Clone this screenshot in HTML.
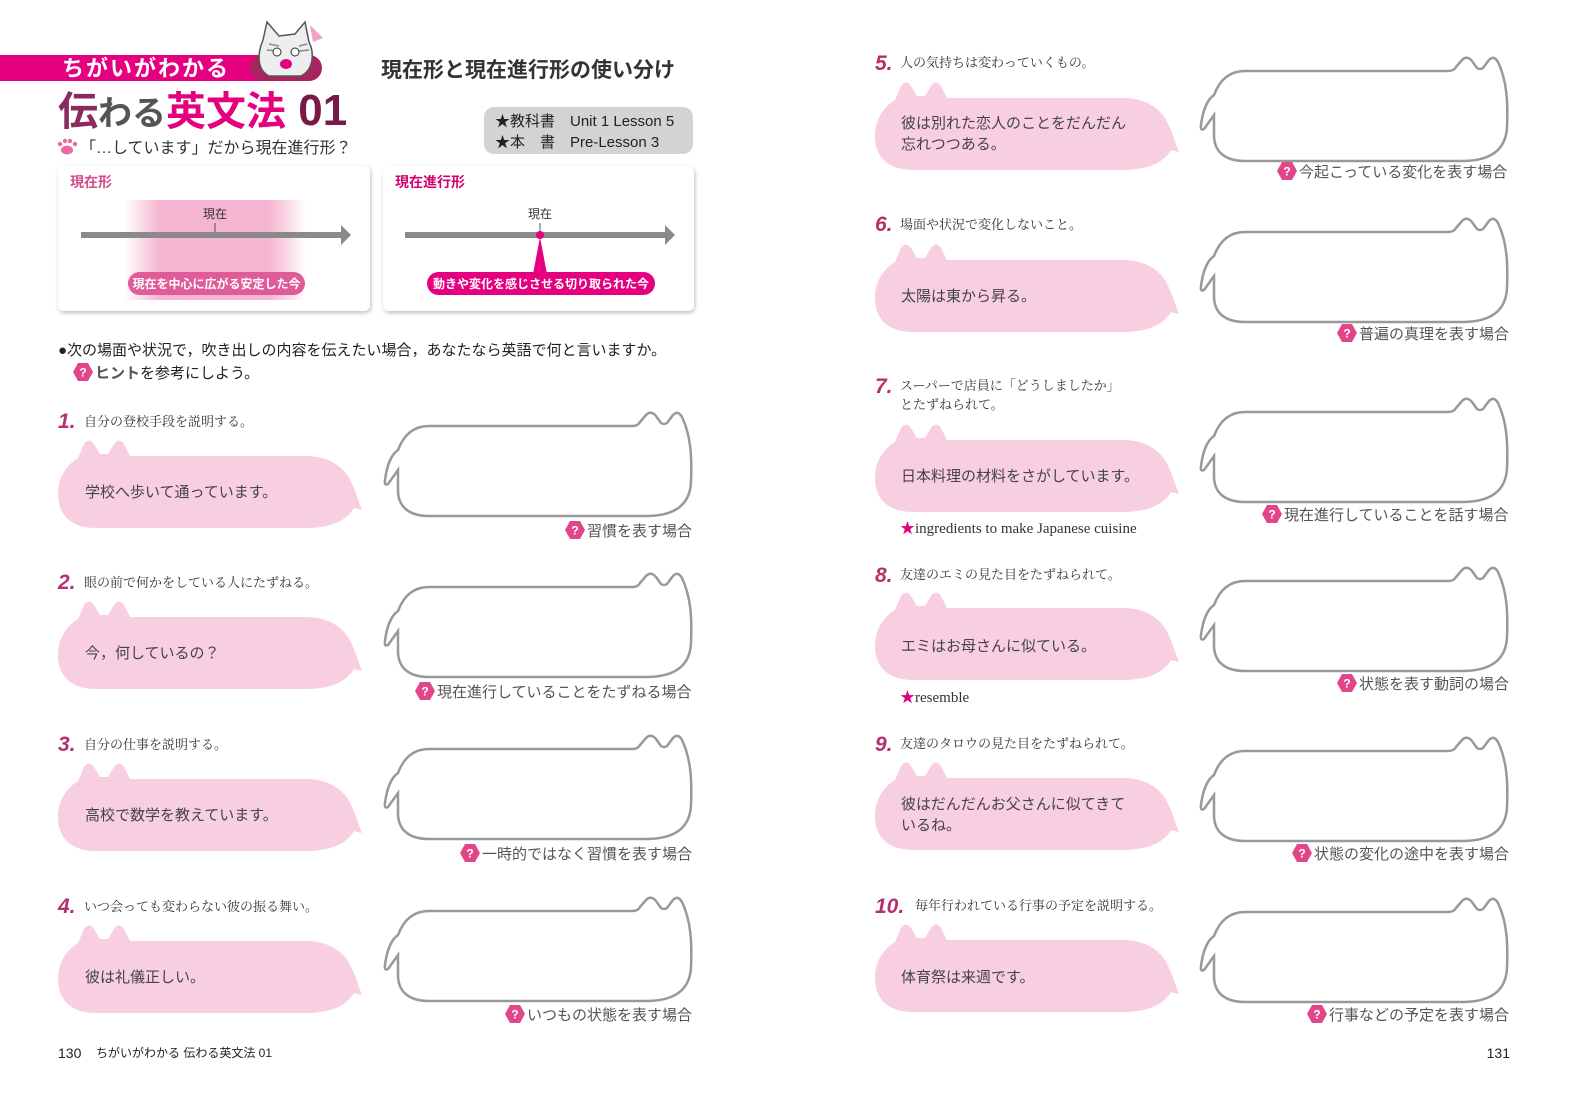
<!DOCTYPE html>
<html><head><meta charset="utf-8"><style>
html,body{margin:0;padding:0;background:#fff;}
svg{display:block;}
text{font-family:"Liberation Sans","Noto Sans CJK JP",sans-serif;}
text.ser,text.note{font-family:"Liberation Serif","Noto Serif CJK SC",serif;}
.ser{font-size:13px;fill:#333;}
.note{font-size:15px;fill:#333;}
.num{font-family:"Liberation Sans",sans-serif;font-weight:bold;font-style:italic;font-size:21px;fill:#b5306e;}
.pt{font-size:15px;fill:#444;}
.ht{font-size:15px;fill:#555;}
.qm{font-size:12px;font-weight:bold;fill:#fff;}
</style></head><body>
<svg width="1580" height="1102" viewBox="0 0 1580 1102" xmlns="http://www.w3.org/2000/svg">
<defs>
<path id="pk" d="M38 90 C12 90 0 76 0 56 C0 38 10 26 20 20 L26 6 Q31 -1 36 6 L42 16 L50 16 L56 6 Q61 -1 66 6 L72 18 L248 18 C272 18 288 30 294 46 C298 54 300 62 304 72 L296 70 C288 84 270 90 248 90 Z" fill="#f8cfe0"/>
<path id="ol" d="M45 14 L248 14 Q254 14 256 10 L262 3 Q267 -2 272 4 L277 11 Q280 13 283 11 L289 3 Q294 -2 298 5 C307 24 308 45 307 70 C306 92 292 104 262 104 L45 104 C24 104 14 94 14 78 L14 58 L4 72 Q0 74 1 68 C3 52 8 42 14 38 C20 22 30 14 45 14 Z" fill="#fff" stroke="#999" stroke-width="2.5"/>
<polygon id="hx" points="-5,-9 5,-9 10,0 5,9 -5,9 -10,0" fill="#e2468a"/>
<linearGradient id="gp" x1="0" x2="1" y1="0" y2="0">
<stop offset="0" stop-color="#f5b5d0" stop-opacity="0"/><stop offset="0.2" stop-color="#f5b5d0"/><stop offset="0.8" stop-color="#f5b5d0"/><stop offset="1" stop-color="#f5b5d0" stop-opacity="0"/></linearGradient>
<filter id="sh" x="-5%" y="-5%" width="110%" height="115%"><feDropShadow dx="1" dy="2" stdDeviation="2" flood-color="#000" flood-opacity="0.25"/></filter>
</defs>

<rect x="0" y="55" width="300" height="26" fill="#e4007f"/>
<rect x="250" y="55" width="72" height="26" rx="13" fill="#a8235f"/>
<text x="62" y="76" font-size="22" font-weight="bold" fill="#fff" letter-spacing="2">ちがいがわかる</text>
<g transform="translate(255,20)">
<path d="M8 20 L12 2 L24 16 L40 14 L50 2 L54 22 C60 34 58 50 46 56 L14 56 C2 50 2 34 8 20 Z" fill="#eee" stroke="#555" stroke-width="1.5"/>
<path d="M14 24 L24 26 M12 30 L22 31 M44 26 L52 24 M44 31 L54 30" stroke="#888" stroke-width="1.5"/>
<circle cx="22" cy="32" r="4" fill="#fff" stroke="#333"/><circle cx="40" cy="32" r="4" fill="#fff" stroke="#333"/>
<ellipse cx="31" cy="44" rx="6" ry="5" fill="#e4007f"/>
<path d="M55 5 L68 18 L58 22 Z" fill="#f3a0c8"/>
</g>
<text x="58" y="125" font-size="40" font-weight="bold" fill="#8b2a5e">伝<tspan font-size="34" fill="#555">わる</tspan><tspan fill="#e4007f">英文法</tspan><tspan fill="#7a1848" font-size="44"> 01</tspan></text>
<g fill="#e86aa2"><ellipse cx="67" cy="150" rx="6" ry="4.5"/><circle cx="60" cy="144" r="2.2"/><circle cx="65" cy="141" r="2.2"/><circle cx="70" cy="141" r="2.2"/><circle cx="75" cy="144" r="2.2"/></g>
<text x="80" y="153" font-size="16" fill="#333">「…しています」だから現在進行形？</text>
<text x="381" y="77" font-size="21" font-weight="bold" fill="#333">現在形と現在進行形の使い分け</text>
<rect x="484" y="107" width="209" height="47" rx="10" fill="#d2d3d4"/>
<text x="495" y="126" font-size="15" fill="#222">★教科書　Unit 1  Lesson 5</text>
<text x="495" y="147" font-size="15" fill="#222">★本　書　Pre-Lesson 3</text>

<rect x="58" y="166" width="312" height="145" rx="6" fill="#fff" filter="url(#sh)"/>
<rect x="383" y="166" width="311" height="145" rx="6" fill="#fff" filter="url(#sh)"/>
<text x="70" y="187" font-size="14" font-weight="bold" fill="#d54889">現在形</text>
<text x="395" y="187" font-size="14" font-weight="bold" fill="#d5006f">現在進行形</text>
<rect x="124" y="200" width="182" height="100" fill="url(#gp)"/>
<text x="215" y="218" font-size="12" fill="#333" text-anchor="middle">現在</text>
<line x1="215" y1="223" x2="215" y2="232" stroke="#555"/>
<rect x="81" y="232" width="262" height="6" fill="#8a8a8a"/>
<polygon points="341,225 351,235 341,245" fill="#8a8a8a"/>
<rect x="128" y="272" width="177" height="23" rx="11.5" fill="#df5c98"/>
<text x="216.5" y="288" font-size="12" font-weight="bold" fill="#fff" text-anchor="middle">現在を中心に広がる安定した今</text>
<text x="540" y="218" font-size="12" fill="#333" text-anchor="middle">現在</text>
<line x1="540" y1="223" x2="540" y2="232" stroke="#555"/>
<rect x="405" y="232" width="262" height="6" fill="#8a8a8a"/>
<polygon points="665,225 675,235 665,245" fill="#8a8a8a"/>
<polygon points="540,237 533,274 547,274" fill="#e4007f"/>
<circle cx="540" cy="235" r="4" fill="#e4007f"/>
<rect x="427" y="272" width="228" height="23" rx="11.5" fill="#e4007f"/>
<text x="541" y="288" font-size="12" font-weight="bold" fill="#fff" text-anchor="middle">動きや変化を感じさせる切り取られた今</text>

<text x="58" y="355" font-size="15" fill="#222">●次の場面や状況で，吹き出しの内容を伝えたい場合，あなたなら英語で何と言いますか。</text>
<use href="#hx" x="83" y="372"/><text x="83" y="376.5" class="qm" text-anchor="middle">?</text>
<text x="95" y="378" font-size="15" fill="#222"><tspan font-weight="bold" fill="#555">ヒント</tspan>を参考にしよう。</text>

<text x="58" y="428" class="num">1.</text><text x="84" y="426" class="ser">自分の登校手段を説明する。</text>
<use href="#pk" x="58" y="438"/><use href="#ol" x="384" y="412"/>
<text x="85" y="497" class="pt">学校へ歩いて通っています。</text>
<use href="#hx" x="575" y="530"/><text x="575" y="534.5" class="qm" text-anchor="middle">?</text><text x="587" y="536" class="ht">習慣を表す場合</text>

<text x="58" y="589" class="num">2.</text><text x="84" y="587" class="ser">眼の前で何かをしている人にたずねる。</text>
<use href="#pk" x="58" y="599"/><use href="#ol" x="384" y="573"/>
<text x="85" y="658" class="pt">今，何しているの？</text>
<use href="#hx" x="425" y="691"/><text x="425" y="695.5" class="qm" text-anchor="middle">?</text><text x="437" y="697" class="ht">現在進行していることをたずねる場合</text>

<text x="58" y="751" class="num">3.</text><text x="84" y="749" class="ser">自分の仕事を説明する。</text>
<use href="#pk" x="58" y="761"/><use href="#ol" x="384" y="735"/>
<text x="85" y="820" class="pt">高校で数学を教えています。</text>
<use href="#hx" x="470" y="853"/><text x="470" y="857.5" class="qm" text-anchor="middle">?</text><text x="482" y="859" class="ht">一時的ではなく習慣を表す場合</text>

<text x="58" y="913" class="num">4.</text><text x="84" y="911" class="ser">いつ会っても変わらない彼の振る舞い。</text>
<use href="#pk" x="58" y="923"/><use href="#ol" x="384" y="897"/>
<text x="85" y="982" class="pt">彼は礼儀正しい。</text>
<use href="#hx" x="515" y="1014"/><text x="515" y="1018.5" class="qm" text-anchor="middle">?</text><text x="527" y="1020" class="ht">いつもの状態を表す場合</text>

<text x="875" y="70" class="num">5.</text><text x="900" y="67" class="ser">人の気持ちは変わっていくもの。</text>
<use href="#pk" x="875" y="80"/><use href="#ol" x="1200" y="57"/>
<text x="901" y="128" class="pt">彼は別れた恋人のことをだんだん</text>
<text x="901" y="149" class="pt">忘れつつある。</text>
<use href="#hx" x="1287" y="171"/><text x="1287" y="175.5" class="qm" text-anchor="middle">?</text><text x="1299" y="177" class="ht">今起こっている変化を表す場合</text>

<text x="875" y="231" class="num">6.</text><text x="900" y="229" class="ser">場面や状況で変化しないこと。</text>
<use href="#pk" x="875" y="242"/><use href="#ol" x="1200" y="218"/>
<text x="901" y="301" class="pt">太陽は東から昇る。</text>
<use href="#hx" x="1347" y="333"/><text x="1347" y="337.5" class="qm" text-anchor="middle">?</text><text x="1359" y="339" class="ht">普遍の真理を表す場合</text>

<text x="875" y="393" class="num">7.</text><text x="900" y="390" class="ser">スーパーで店員に「どうしましたか」</text><text x="900" y="409" class="ser">とたずねられて。</text>
<use href="#pk" x="875" y="422"/><use href="#ol" x="1200" y="398"/>
<text x="901" y="481" class="pt">日本料理の材料をさがしています。</text>
<text x="900" y="533" class="note"><tspan fill="#e4007f">★</tspan>ingredients to make Japanese cuisine</text>
<use href="#hx" x="1272" y="514"/><text x="1272" y="518.5" class="qm" text-anchor="middle">?</text><text x="1284" y="520" class="ht">現在進行していることを話す場合</text>

<text x="875" y="582" class="num">8.</text><text x="900" y="579" class="ser">友達のエミの見た目をたずねられて。</text>
<use href="#pk" x="875" y="590"/><use href="#ol" x="1200" y="567"/>
<text x="901" y="651" class="pt">エミはお母さんに似ている。</text>
<text x="900" y="702" class="note"><tspan fill="#e4007f">★</tspan>resemble</text>
<use href="#hx" x="1347" y="683"/><text x="1347" y="687.5" class="qm" text-anchor="middle">?</text><text x="1359" y="689" class="ht">状態を表す動詞の場合</text>

<text x="875" y="751" class="num">9.</text><text x="900" y="748" class="ser">友達のタロウの見た目をたずねられて。</text>
<use href="#pk" x="875" y="760"/><use href="#ol" x="1200" y="737"/>
<text x="901" y="809" class="pt">彼はだんだんお父さんに似てきて</text>
<text x="901" y="830" class="pt">いるね。</text>
<use href="#hx" x="1302" y="853"/><text x="1302" y="857.5" class="qm" text-anchor="middle">?</text><text x="1314" y="859" class="ht">状態の変化の途中を表す場合</text>

<text x="875" y="913" class="num">10.</text><text x="915" y="910" class="ser">毎年行われている行事の予定を説明する。</text>
<use href="#pk" x="875" y="922"/><use href="#ol" x="1200" y="898"/>
<text x="901" y="982" class="pt">体育祭は来週です。</text>
<use href="#hx" x="1317" y="1014"/><text x="1317" y="1018.5" class="qm" text-anchor="middle">?</text><text x="1329" y="1020" class="ht">行事などの予定を表す場合</text>

<text x="58" y="1058" font-size="14" fill="#222">130</text>
<text x="96" y="1057" font-size="12" fill="#222">ちがいがわかる  伝わる英文法 01</text>
<text x="1510" y="1058" font-size="14" fill="#222" text-anchor="end">131</text>
</svg>
</body></html>
